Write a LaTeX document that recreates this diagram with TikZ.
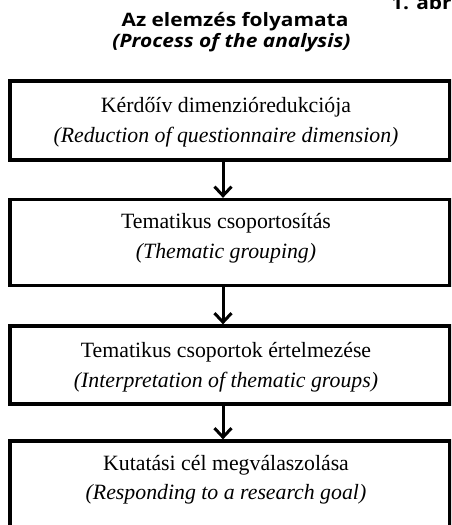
\documentclass[tikz,border=0pt]{standalone}
\usepackage{graphicx}
\usepackage{fontspec}
\setmainfont{Liberation Serif}
\newfontfamily\titlefont{Open Sans}
\usetikzlibrary{arrows.meta}
\newcommand{\widett}[1]{\scalebox{1.13}[1]{#1}}
\begin{document}
\begin{tikzpicture}[x=1pt,y=-1pt,
  box/.style={draw=black, line width=3.3pt, minimum width=440pt, inner sep=0pt, fill=white},
  txt/.style={font=\fontsize{21.8}{25}\selectfont, anchor=base, inner sep=0pt},
  ttl/.style={font=\titlefont\bfseries\fontsize{18.5}{22}\selectfont, anchor=base, inner sep=0pt},
  arr/.style={line width=3pt, -{Straight Barb[length=9pt, width=17pt, line width=3pt]}}]
\useasboundingbox (0,0) rectangle (451,525);
\begin{scope}
\clip (0,0) rectangle (451,525);
\node[ttl, anchor=base west] (fig) at (391,9.3) {\widett{1. ábra}};
\node[ttl] (t1) at (235,26.7) {\widett{Az elemzés folyamata}};
\node[ttl] (t2) at (231.5,47.7) {\widett{\itshape (Process of the analysis)}};

\node[box, minimum height=79pt] (b1) at (230,120.5) {};
\node[box, minimum height=86pt] (b2) at (230,242.5) {};
\node[box, minimum height=78pt] (b3) at (230,365) {};
\node[box, minimum height=120pt] (b4) at (230,501) {};

\node[txt] (l1a) at (226,112) {Kérdőív dimenzióredukciója};
\node[txt] (l1b) at (226,142) {\itshape (Reduction of questionnaire dimension)};
\node[txt] (l2a) at (226,228) {Tematikus csoportosítás};
\node[txt] (l2b) at (226,258) {\itshape (Thematic grouping)};
\node[txt] (l3a) at (226,357) {Tematikus csoportok értelmezése};
\node[txt] (l3b) at (226,387) {\itshape (Interpretation of thematic groups)};
\node[txt] (l4a) at (226,470) {Kutatási cél megválaszolása};
\node[txt] (l4b) at (226,499) {\itshape (Responding to a research goal)};

\coordinate (ax) at (223,0);
\draw[arr] (b1.south -| ax) -- (b2.north -| ax);
\draw[arr] (b2.south -| ax) -- (b3.north -| ax);
\draw[arr] (b3.south -| ax) -- (b4.north -| ax);
\end{scope}
\end{tikzpicture}
\end{document}
